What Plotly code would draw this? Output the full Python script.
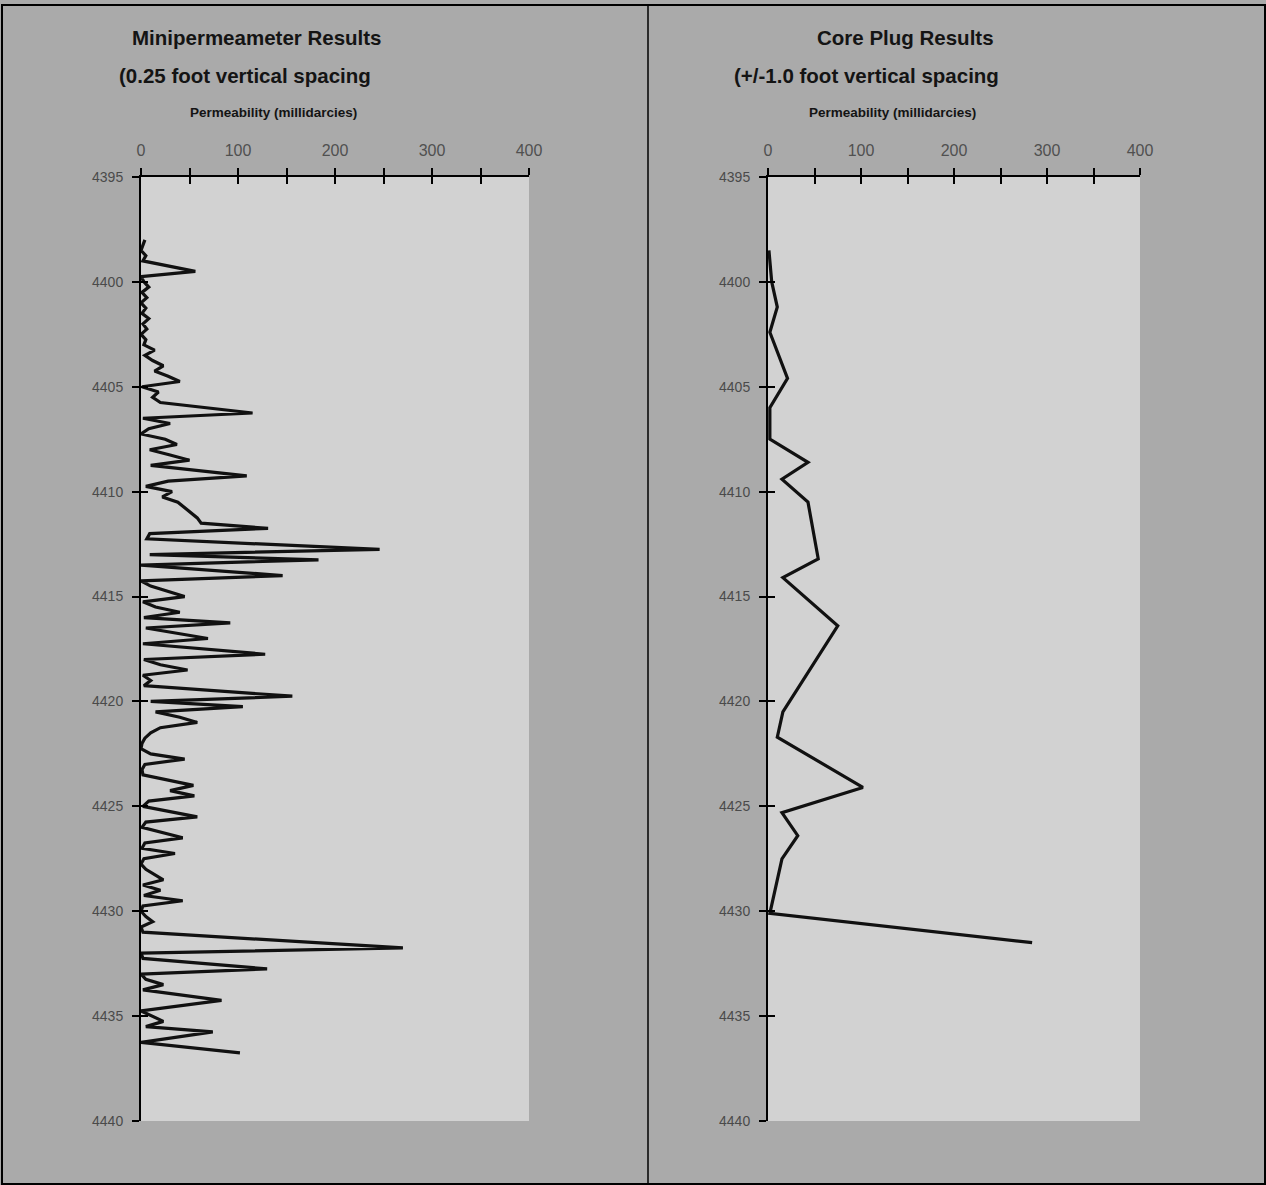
import plotly.graph_objects as go

# ---------------- data ----------------
mini_depth = [4398.00, 4398.50, 4398.75, 4399.00, 4399.50, 4399.75, 4400.00, 4400.25, 4400.50, 4400.75,
              4401.00, 4401.25, 4401.50, 4401.75, 4402.00, 4402.25, 4402.50, 4402.75, 4403.00, 4403.25,
              4403.50, 4403.75, 4404.00, 4404.25, 4404.50, 4404.75, 4405.00, 4405.25, 4405.50, 4405.75,
              4406.25, 4406.50, 4406.75, 4407.00, 4407.25, 4407.50, 4407.75, 4408.00, 4408.25, 4408.50,
              4408.75, 4409.25, 4409.50, 4409.75, 4410.00, 4410.25, 4410.50, 4410.75, 4411.00, 4411.25,
              4411.50, 4411.75, 4412.00, 4412.25, 4412.75, 4413.00, 4413.25, 4413.50, 4414.00, 4414.25,
              4414.50, 4415.00, 4415.25, 4415.50, 4415.75, 4416.00, 4416.25, 4416.50, 4417.00, 4417.25,
              4417.75, 4418.00, 4418.25, 4418.50, 4418.75, 4419.00, 4419.25, 4419.75, 4420.00, 4420.25,
              4420.50, 4420.75, 4421.00, 4421.25, 4421.50, 4421.75, 4422.00, 4422.25, 4422.50, 4422.75,
              4423.00, 4423.25, 4423.50, 4424.00, 4424.25, 4424.50, 4424.75, 4425.00, 4425.50, 4425.75,
              4426.00, 4426.50, 4426.75, 4427.00, 4427.25, 4427.50, 4427.75, 4428.00, 4428.50, 4428.75,
              4429.00, 4429.25, 4429.50, 4429.75, 4430.00, 4430.25, 4430.50, 4430.75, 4431.00, 4431.75,
              4432.00, 4432.25, 4432.75, 4433.00, 4433.25, 4433.50, 4433.75, 4434.25, 4434.75, 4435.25,
              4435.50, 4435.75, 4436.25, 4436.75]
mini_perm = [4, 0, 5, 2, 56, 0, 3, 8, 1, 6,
             0, 5, 1, 8, 2, 6, 0, 5, 3, 14,
             4, 12, 23, 14, 28, 40, 1, 18, 12, 20,
             115, 2, 30, 8, 0, 25, 37, 9, 30, 50,
             10, 109, 28, 5, 32, 22, 38, 45, 52, 58,
             62, 131, 9, 6, 246, 9, 183, 0, 146, 0,
             10, 45, 2, 15, 40, 3, 92, 5, 69, 2,
             128, 3, 20, 48, 2, 10, 3, 156, 10, 105,
             15, 40, 58, 20, 10, 4, 1, 0, 10, 45,
             4, 1, 2, 54, 30, 55, 8, 2, 58, 5,
             1, 43, 4, 1, 35, 3, 0, 5, 23, 2,
             20, 3, 43, 2, 0, 5, 12, 0, 2, 270,
             0, 2, 130, 0, 5, 23, 2, 83, 0, 23,
             5, 74, 0, 102]

plug_depth = [4398.5, 4400.0, 4401.2, 4402.4, 4404.6, 4406.0, 4407.5, 4408.6, 4409.4, 4410.5,
              4413.2, 4414.1, 4416.4, 4420.5, 4421.7, 4424.1, 4425.3, 4426.4, 4427.5, 4429.8,
              4430.1, 4431.5]
plug_perm = [1, 4, 10, 2, 21, 2, 2, 43, 15, 43,
             54, 16, 75, 16, 10, 102, 15, 32, 15, 4,
             2, 284]

x_range = [0, 400]
y_range = [4440, 4395]
x_tickvals = [0, 100, 200, 300, 400]
y_tickvals = [4395, 4400, 4405, 4410, 4415, 4420, 4425, 4430, 4435, 4440]

titles_left = ["Minipermeameter Results", "(0.25 foot vertical spacing"]
titles_right = ["Core Plug Results", "(+/-1.0 foot vertical spacing"]
axis_title = "Permeability (millidarcies)"

# ---------------- layout helpers ----------------
W, H = 1266, 1185
FONT = "Liberation Sans, Arial, sans-serif"

def px_x(p):
    return p / W

def px_y(p):
    return 1 - p / H

y_dom = [px_y(1121), px_y(177)]
left_dom = [px_x(141), px_x(529)]
right_dom = [px_x(768), px_x(1140)]

def xaxis_main(dom):
    return dict(domain=dom, range=x_range, side="top", showline=True, linecolor="black",
                linewidth=2, ticks="outside", ticklen=7, tickwidth=2, tickcolor="black",
                tickvals=x_tickvals, showgrid=False, zeroline=False, automargin=False,
                tickfont=dict(family=FONT, size=16, color="#505050"),
                minor=dict(dtick=50, ticks="outside", ticklen=7, tickwidth=2, tickcolor="black"),
                ticklabelstandoff=6)

def xaxis_over(dom, over, anchor):
    return dict(domain=dom, range=x_range, side="top", overlaying=over, anchor=anchor,
                showline=False, ticks="inside", ticklen=7, tickwidth=2, tickcolor="black",
                tickvals=x_tickvals, showticklabels=False, showgrid=False, zeroline=False,
                automargin=False,
                minor=dict(dtick=50, ticks="inside", ticklen=7, tickwidth=2, tickcolor="black"))

def yaxis_main():
    return dict(domain=y_dom, range=y_range, showline=True, linecolor="black", linewidth=2,
                ticks="outside", ticklen=7, tickwidth=2, tickcolor="black", automargin=False,
                tickvals=y_tickvals, showgrid=False, zeroline=False,
                tickfont=dict(family=FONT, size=14, color="#4a4a4a"), ticklabelstandoff=6)

def yaxis_over(over, anchor):
    return dict(domain=y_dom, range=y_range, overlaying=over, anchor=anchor, side="left",
                showline=False, ticks="inside", ticklen=7, tickwidth=2, tickcolor="black",
                tickvals=y_tickvals, showticklabels=False, showgrid=False, zeroline=False,
                automargin=False)

fig = go.Figure()
fig.add_trace(go.Scatter(x=mini_perm, y=mini_depth, mode="lines",
                         line=dict(color="#111111", width=3.2), xaxis="x", yaxis="y",
                         showlegend=False, hoverinfo="x+y"))
fig.add_trace(go.Scatter(x=plug_perm, y=plug_depth, mode="lines",
                         line=dict(color="#111111", width=3.2), xaxis="x2", yaxis="y2",
                         showlegend=False, hoverinfo="x+y"))
fig.add_trace(go.Scatter(x=[], y=[], xaxis="x3", yaxis="y3", showlegend=False))
fig.add_trace(go.Scatter(x=[], y=[], xaxis="x4", yaxis="y4", showlegend=False))

ann = []
def title(text, x, y, size, anchor="center"):
    ann.append(dict(text="<b>%s</b>" % text, xref="paper", yref="paper", x=px_x(x), y=px_y(y),
                    xanchor=anchor, yanchor="middle", showarrow=False,
                    font=dict(family=FONT, size=size, color="#141414")))

title(titles_left[0], 257, 38, 20.5)
title(titles_left[1], 117, 76, 20.5, "left")
title(axis_title, 273, 113, 13.5)
title(titles_right[0], 906, 38, 20.5)
title(titles_right[1], 732, 76, 20.5, "left")
title(axis_title, 892, 113, 13.5)

shapes = [
    dict(type="rect", xref="paper", yref="paper", x0=px_x(2), x1=px_x(1265), y0=px_y(1184), y1=px_y(5),
         line=dict(color="black", width=2), fillcolor="rgba(0,0,0,0)", layer="below"),
    dict(type="line", xref="paper", yref="paper", x0=px_x(648), x1=px_x(648), y0=px_y(1184), y1=px_y(5),
         line=dict(color="black", width=1.5)),
]

fig.update_layout(
    width=W, height=H, margin=dict(l=0, r=0, t=0, b=0, pad=0, autoexpand=False),
    paper_bgcolor="#aaaaaa", plot_bgcolor="#d2d2d2",
    xaxis=dict(xaxis_main(left_dom), anchor="y"),
    yaxis=dict(yaxis_main(), anchor="x"),
    xaxis2=dict(xaxis_main(right_dom), anchor="y2"),
    yaxis2=dict(yaxis_main(), anchor="x2"),
    xaxis3=xaxis_over(left_dom, "x", "y3"),
    yaxis3=yaxis_over("y", "x3"),
    xaxis4=xaxis_over(right_dom, "x2", "y4"),
    yaxis4=yaxis_over("y2", "x4"),
    annotations=ann, shapes=shapes, showlegend=False,
)

fig.write_html("out.html", config={"displayModeBar": False},
               post_script="document.body.style.margin='0';document.body.style.overflow='hidden';")
